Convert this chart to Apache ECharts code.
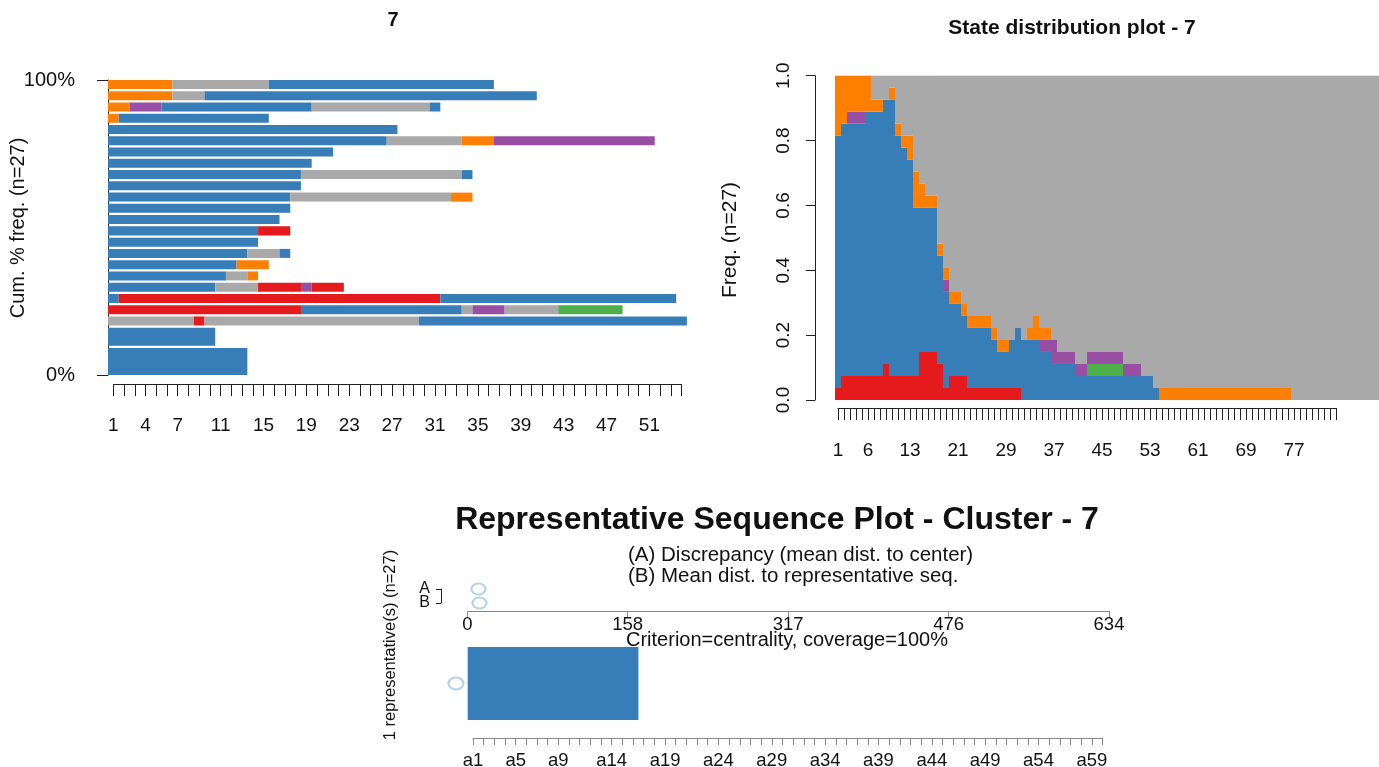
<!DOCTYPE html>
<html>
<head>
<meta charset="utf-8">
<script src="https://cdn.jsdelivr.net/npm/echarts@6/dist/echarts.min.js"></script>
<style>
  html, body { margin: 0; padding: 0; background: #fff; }
  #chart { width: 1379px; height: 767px; }
</style>
</head>
<body>
<div id="chart"></div>
<script>
// state colours (Set1 palette, darkgrey = missing)
const stateColor = { R: '#E41A1C', B: '#377EB8', G: '#4DAF4A', P: '#984EA3', O: '#FF7F00', M: '#A9A9A9' }
const FONT = 'Liberation Sans, Arial, sans-serif'

// ---- top left: sequence frequency plot (rows listed top to bottom) ----
const freqSeqs = [
  [['O', 6], ['M', 9], ['B', 21]],
  [['O', 6], ['M', 3], ['B', 31]],
  [['O', 2], ['P', 3], ['B', 14], ['M', 11], ['B', 1]],
  [['O', 1], ['B', 14]],
  [['B', 27]],
  [['B', 26], ['M', 7], ['O', 3], ['P', 15]],
  [['B', 21]],
  [['B', 19]],
  [['B', 18], ['M', 15], ['B', 1]],
  [['B', 18]],
  [['B', 17], ['M', 15], ['O', 2]],
  [['B', 17]],
  [['B', 16]],
  [['B', 14], ['R', 3]],
  [['B', 14]],
  [['B', 13], ['M', 3], ['B', 1]],
  [['B', 12], ['O', 3]],
  [['B', 11], ['M', 2], ['O', 1]],
  [['B', 10], ['M', 4], ['R', 4], ['P', 1], ['R', 3]],
  [['B', 1], ['R', 30], ['B', 22]],
  [['R', 18], ['B', 15], ['M', 1], ['P', 3], ['M', 5], ['G', 6]],
  [['M', 8], ['R', 1], ['M', 20], ['B', 25]],
  [['B', 10]],
  [['B', 13]]
]
const freqCounts = [1, 1, 1, 1, 1, 1, 1, 1, 1, 1, 1, 1, 1, 1, 1, 1, 1, 1, 1, 1, 1, 1, 2, 3]
const freqLength = 54
const freqTickLabels = [1, 4, 7, 11, 15, 19, 23, 27, 31, 35, 39, 43, 47, 51]
const FREQ_GAP = 0.25

// ---- top right: state distribution, counts per position (n = 27) ----
const distRed = [1, 2, 2, 2, 2, 2, 2, 2, 3, 2, 2, 2, 2, 2, 4, 4, 4, 3, 1, 2, 2, 2, 1, 1, 1, 1, 1, 1, 1, 1, 1,
  0, 0, 0, 0, 0, 0, 0, 0, 0, 0, 0, 0, 0, 0, 0, 0, 0, 0, 0, 0, 0, 0, 0, 0, 0, 0, 0, 0, 0, 0, 0, 0, 0, 0, 0, 0, 0, 0, 0,
  0, 0, 0, 0, 0, 0, 0, 0, 0, 0, 0, 0, 0, 0, 0, 0, 0, 0, 0, 0, 0]
const distBlue = [21, 21, 21, 21, 21, 22, 22, 22, 22, 23, 20, 19, 18, 14, 12, 12, 12, 9, 8, 6, 6, 5, 5, 5, 5, 5, 4, 3, 3, 4, 5,
  5, 5, 5, 4, 4, 3, 3, 3, 3, 2, 2, 2, 2, 2, 2, 2, 2, 2, 2, 2, 2, 2, 1, 0, 0, 0, 0, 0, 0, 0, 0, 0, 0, 0, 0, 0, 0, 0, 0,
  0, 0, 0, 0, 0, 0, 0, 0, 0, 0, 0, 0, 0, 0, 0, 0, 0, 0, 0, 0, 0]
const distGreen = [0, 0, 0, 0, 0, 0, 0, 0, 0, 0, 0, 0, 0, 0, 0, 0, 0, 0, 0, 0, 0, 0, 0, 0, 0, 0, 0, 0, 0, 0, 0,
  0, 0, 0, 0, 0, 0, 0, 0, 0, 0, 0, 1, 1, 1, 1, 1, 1, 0, 0, 0, 0, 0, 0, 0, 0, 0, 0, 0, 0, 0, 0, 0, 0, 0, 0, 0, 0, 0, 0,
  0, 0, 0, 0, 0, 0, 0, 0, 0, 0, 0, 0, 0, 0, 0, 0, 0, 0, 0, 0, 0]
const distPurple = [0, 0, 1, 1, 1, 0, 0, 0, 0, 0, 0, 0, 0, 0, 0, 0, 0, 0, 1, 0, 0, 0, 0, 0, 0, 0, 0, 0, 0, 0, 0,
  0, 0, 0, 1, 1, 2, 1, 1, 1, 1, 1, 1, 1, 1, 1, 1, 1, 1, 1, 1, 0, 0, 0, 0, 0, 0, 0, 0, 0, 0, 0, 0, 0, 0, 0, 0, 0, 0, 0,
  0, 0, 0, 0, 0, 0, 0, 0, 0, 0, 0, 0, 0, 0, 0, 0, 0, 0, 0, 0, 0]
const distOrange = [5, 4, 3, 3, 3, 3, 1, 1, 0, 1, 1, 1, 2, 3, 2, 1, 1, 1, 1, 1, 1, 1, 1, 1, 1, 1, 1, 1, 1, 0, 0,
  0, 1, 2, 1, 1, 0, 0, 0, 0, 0, 0, 0, 0, 0, 0, 0, 0, 0, 0, 0, 0, 0, 0, 1, 1, 1, 1, 1, 1, 1, 1, 1, 1, 1, 1, 1, 1, 1, 1,
  1, 1, 1, 1, 1, 1, 0, 0, 0, 0, 0, 0, 0, 0, 0, 0, 0, 0, 0, 0, 0]
const distGrey = [0, 0, 0, 0, 0, 0, 2, 2, 2, 1, 4, 5, 5, 8, 9, 10, 10, 14, 16, 18, 18, 19, 20, 20, 20, 20, 21, 22, 22, 22, 21,
  22, 21, 20, 21, 21, 22, 23, 23, 23, 24, 24, 23, 23, 23, 23, 23, 23, 24, 24, 24, 25, 25, 26, 26, 26, 26, 26, 26, 26, 26, 26, 26, 26, 26, 26, 26, 26, 26, 26,
  26, 26, 26, 26, 26, 26, 27, 27, 27, 27, 27, 27, 27, 27, 27, 27, 27, 27, 27, 27, 27]
const distN = 27
const distTicks = 84
const distTickLabels = [1, 6, 13, 21, 29, 37, 45, 53, 61, 69, 77]

// ---- bottom: representative sequence ----
const repSeq = [['B', 16]]
const repLength = 60
const repTickLabels = [1, 5, 9, 14, 19, 24, 29, 34, 39, 44, 49, 54, 59]
const repDistMax = 634
const repDistLabels = ['0', '158', '317', '476', '634']
const repDiscrepancy = 11   // (A)
const repMeanDist = 12      // (B)

// build rectangles for the sequence plots
const freqRects = []
let yPos = 0
for (let i = freqSeqs.length - 1; i >= 0; i--) {
  let t = 0
  freqSeqs[i].forEach(([s, len]) => {
    freqRects.push({ value: [t, t + len, yPos, yPos + freqCounts[i]], itemStyle: { color: stateColor[s] } })
    t += len
  })
  yPos += freqCounts[i] + FREQ_GAP
}
const freqTop = yPos - FREQ_GAP

const repRects = []
let rt = 0
repSeq.forEach(([s, len]) => {
  repRects.push({ value: [rt, rt + len, 0, 1], itemStyle: { color: stateColor[s] } })
  rt += len
})

const rectItem = (params, api) => {
  const p0 = api.coord([api.value(0), api.value(3)])
  const p1 = api.coord([api.value(1), api.value(2)])
  return {
    type: 'rect',
    shape: { x: p0[0], y: p0[1], width: p1[0] - p0[0], height: p1[1] - p0[1] },
    style: { fill: api.visual('color') }
  }
}

const distCats = distGrey.map((_, i) => String(i + 1))
const distSeries = [
  ['R', distRed], ['B', distBlue], ['G', distGreen], ['P', distPurple], ['O', distOrange], ['M', distGrey]
].map(([s, arr]) => ({
  type: 'bar', xAxisIndex: 2, yAxisIndex: 2, stack: 'dist',
  barCategoryGap: '0%', barGap: '0%',
  itemStyle: { color: stateColor[s] },
  data: arr.map(v => v / distN),
  silent: true
}))

const txt = { color: '#111', fontFamily: FONT, fontSize: 19 }
const hiddenY = (grid) => ({ type: 'value', gridIndex: grid, show: false, min: 0, max: 1 })
const axisX = (grid, min, max, margin, labelFn) => ({
  type: 'value', gridIndex: grid, min: min, max: max, interval: 1, position: 'bottom',
  axisLine: { show: true, lineStyle: { color: '#222', width: 1 } },
  axisTick: { show: true, length: 12, lineStyle: { color: '#222' } },
  axisLabel: { ...txt, margin: margin, formatter: labelFn, hideOverlap: false },
  splitLine: { show: false }
})

const chart = echarts.init(document.getElementById('chart'))
chart.setOption({
  backgroundColor: '#fff',
  animation: false,
  grid: [
    { left: 108, top: 80, width: freqLength * 10.72, height: 295, outerBoundsMode: 'none' },
    { left: 113.4, top: 383, width: (freqLength - 1) * 10.72, height: 1, outerBoundsMode: 'none' },
    { left: 835, top: 75.7, width: distCats.length * 6, height: 324.3, outerBoundsMode: 'none' },
    { left: 838, top: 407, width: (distTicks - 1) * 6, height: 1, outerBoundsMode: 'none' },
    { left: 467.3, top: 589, width: 641.7, height: 14, outerBoundsMode: 'none' },
    { left: 467.7, top: 647, width: repLength * 10.67, height: 73, outerBoundsMode: 'none' },
    { left: 473, top: 737, width: (repLength - 1) * 10.67, height: 1, outerBoundsMode: 'none' },
    { left: 441, top: 589, width: 1, height: 14, outerBoundsMode: 'none' }
  ],
  xAxis: [
    { type: 'value', gridIndex: 0, min: 0, max: freqLength, show: false },
    axisX(1, 1, freqLength, 32, v => freqTickLabels.includes(v) ? String(v) : ''),
    { type: 'category', gridIndex: 2, data: distCats, show: false },
    axisX(3, 1, distTicks, 33, v => distTickLabels.includes(v) ? String(v) : ''),
    {
      type: 'value', gridIndex: 4, min: 0, max: repDistMax, interval: repDistMax / 4, offset: 8,
      axisLine: { show: true, lineStyle: { color: '#888' } },
      axisTick: { show: true, length: 7, lineStyle: { color: '#888' } },
      axisLabel: { ...txt, fontSize: 18.5, margin: 4, formatter: v => repDistLabels[Math.round(v / (repDistMax / 4))] },
      splitLine: { show: false }
    },
    { type: 'value', gridIndex: 5, min: 0, max: repLength, show: false },
    {
      type: 'value', gridIndex: 6, min: 1, max: repLength, interval: 1, position: 'bottom',
      axisLine: { show: true, lineStyle: { color: '#888' } },
      axisTick: { show: true, length: 7, lineStyle: { color: '#888' } },
      axisLabel: { ...txt, fontSize: 18.5, margin: 13, hideOverlap: false,
        formatter: v => repTickLabels.includes(v) ? 'a' + v : '' },
      splitLine: { show: false }
    },
    { type: 'value', gridIndex: 7, show: false, min: 0, max: 1 }
  ],
  yAxis: [
    {
      type: 'value', gridIndex: 0, min: 0, max: freqTop, interval: freqTop, offset: 5,
      axisLine: { show: true, lineStyle: { color: '#222' } },
      axisTick: { show: true, length: 11, lineStyle: { color: '#222' } },
      axisLabel: { ...txt, fontSize: 20, margin: 28, formatter: v => v === 0 ? '0%' : '100%' },
      splitLine: { show: false }
    },
    hiddenY(1),
    {
      type: 'value', gridIndex: 2, min: 0, max: 1, interval: 0.2, offset: 20,
      axisLine: { show: true, lineStyle: { color: '#222' } },
      axisTick: { show: true, length: 9, lineStyle: { color: '#222' } },
      axisLabel: { ...txt, rotate: 90, margin: 22, formatter: v => v.toFixed(1) },
      splitLine: { show: false }
    },
    hiddenY(3),
    { type: 'category', gridIndex: 4, data: ['B', 'A'], boundaryGap: false, show: false },
    hiddenY(5),
    hiddenY(6),
    {
      type: 'category', gridIndex: 7, data: ['B', 'A'], boundaryGap: false,
      axisLine: { show: true, lineStyle: { color: '#222' } },
      axisTick: { show: true, length: 5, interval: 0, lineStyle: { color: '#222' } },
      axisLabel: { ...txt, fontSize: 16, margin: 11, interval: 0 }
    }
  ],
  series: [
    {
      type: 'custom', xAxisIndex: 0, yAxisIndex: 0, renderItem: rectItem,
      encode: { x: [0, 1], y: [2, 3] }, data: freqRects, silent: true
    },
    ...distSeries,
    {
      type: 'scatter', xAxisIndex: 4, yAxisIndex: 4, symbol: 'emptyCircle', symbolSize: [14, 11],
      itemStyle: { color: '#9ecae1', borderWidth: 2 }, clip: false, silent: true,
      data: [[repDiscrepancy, 'A'], [repMeanDist, 'B']]
    },
    {
      type: 'custom', xAxisIndex: 5, yAxisIndex: 5, renderItem: rectItem,
      encode: { x: [0, 1], y: [2, 3] }, data: repRects, silent: true
    },
    {
      type: 'scatter', xAxisIndex: 5, yAxisIndex: 5, symbol: 'emptyCircle', symbolSize: [15, 12],
      itemStyle: { color: '#9ecae1', borderWidth: 2 }, clip: false, silent: true,
      data: [[-1.1, 0.5]]
    }
  ],
  graphic: [
    { type: 'text', x: 393, y: 20, style: { text: '7', font: 'bold 20px ' + FONT, fill: '#111', align: 'center', verticalAlign: 'middle' } },
    { type: 'text', x: 1072, y: 28, style: { text: 'State distribution plot - 7', font: 'bold 21px ' + FONT, fill: '#111', align: 'center', verticalAlign: 'middle' } },
    { type: 'text', x: 18, y: 228, rotation: Math.PI / 2, style: { text: 'Cum. % freq. (n=27)', font: '20px ' + FONT, fill: '#111', align: 'center', verticalAlign: 'middle' } },
    { type: 'text', x: 730, y: 240, rotation: Math.PI / 2, style: { text: 'Freq. (n=27)', font: '21px ' + FONT, fill: '#111', align: 'center', verticalAlign: 'middle' } },
    { type: 'text', x: 777, y: 520, style: { text: 'Representative Sequence Plot - Cluster - 7', font: 'bold 32px ' + FONT, fill: '#111', align: 'center', verticalAlign: 'middle' } },
    { type: 'text', x: 628, y: 555, style: { text: '(A) Discrepancy (mean dist. to center)', font: '20.5px ' + FONT, fill: '#111', align: 'left', verticalAlign: 'middle' } },
    { type: 'text', x: 628, y: 576, style: { text: '(B) Mean dist. to representative seq.', font: '20.5px ' + FONT, fill: '#111', align: 'left', verticalAlign: 'middle' } },
    { type: 'text', x: 787, y: 640, style: { text: 'Criterion=centrality, coverage=100%', font: '20px ' + FONT, fill: '#111', align: 'center', verticalAlign: 'middle' } },
    { type: 'text', x: 390, y: 645, rotation: Math.PI / 2, style: { text: '1 representative(s) (n=27)', font: '16.5px ' + FONT, fill: '#111', align: 'center', verticalAlign: 'middle' } }
  ]
})
</script>
</body>
</html>
